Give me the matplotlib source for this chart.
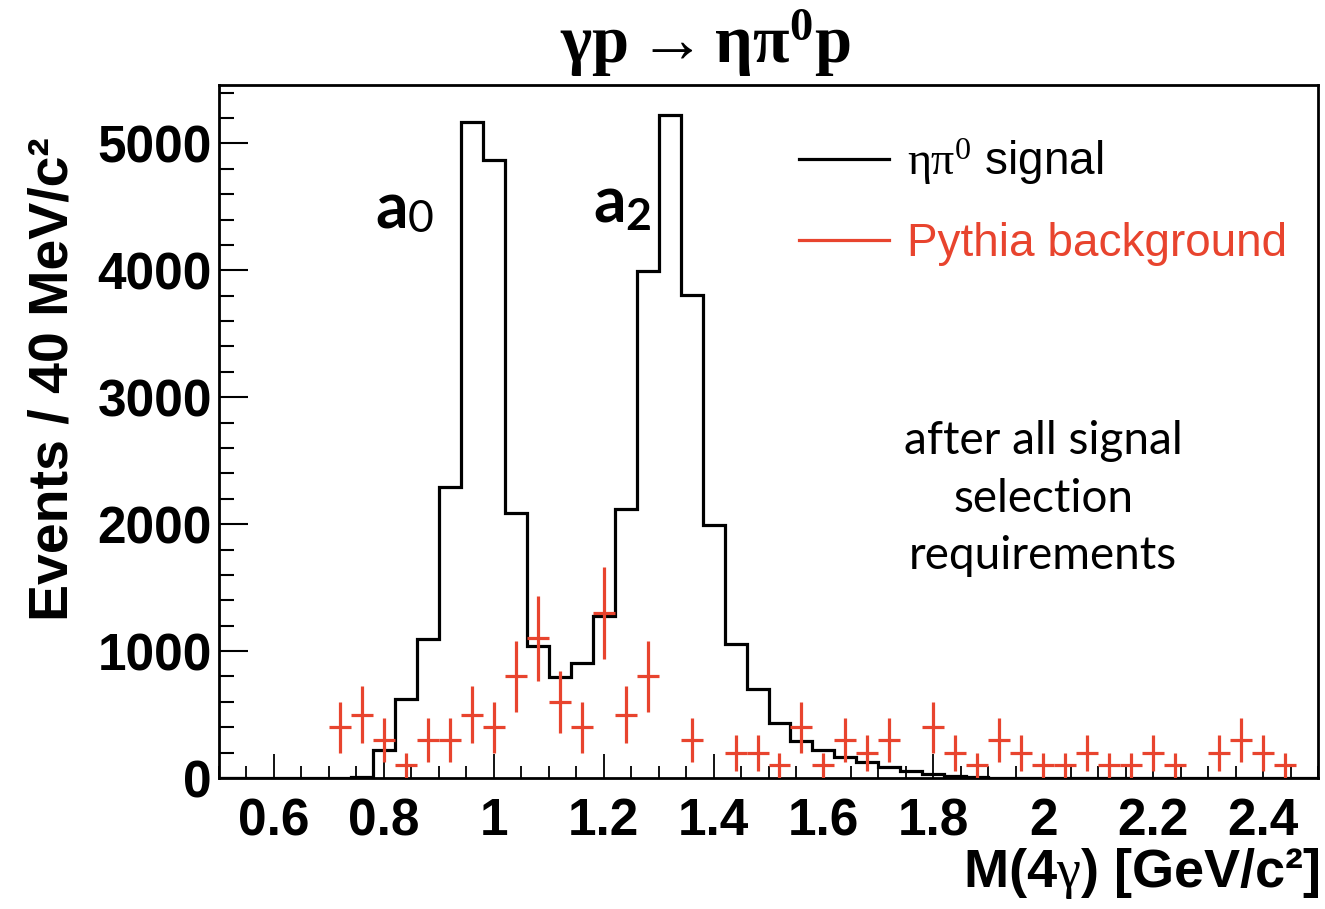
import numpy as np
import matplotlib
matplotlib.use('Agg')
import matplotlib.pyplot as plt
from matplotlib.lines import Line2D
from matplotlib.ticker import MultipleLocator, FuncFormatter

plt.rcParams.update({'font.family': 'Liberation Sans', 'mathtext.fontset': 'custom',
                     'mathtext.rm': 'Liberation Serif', 'mathtext.it': 'Liberation Serif:italic',
                     'mathtext.bf': 'Liberation Serif:bold'})
RED = '#e8442e'

# 40 MeV bins from 0.5 to 2.5 GeV
edges = np.round(np.arange(0.5, 2.5001, 0.04), 2)
centers = (edges[:-1] + edges[1:]) / 2

# eta pi0 signal (MC), events per bin
signal = [0, 0, 0, 0, 0, 0, 8, 220, 622, 1095,
          2294, 5171, 4866, 2084, 1037, 793, 903, 1273, 2118, 3995,
          5220, 3803, 1995, 1055, 700, 430, 289, 220, 163, 123,
          84, 53, 31, 13, 6, 3, 1, 0, 0, 0,
          0, 0, 0, 0, 0, 0, 0, 0, 0, 0]

# Pythia background, per bin, with errors
bkg = [0, 0, 0, 0, 0, 400, 500, 300, 100, 300,
       300, 500, 400, 800, 1100, 600, 400, 1300, 500, 800,
       0, 300, 0, 200, 200, 100, 400, 100, 300, 200,
       300, 0, 400, 200, 100, 300, 200, 100, 100, 200,
       100, 100, 200, 100, 0, 200, 300, 200, 100, 0]
bkg_err = [0, 0, 0, 0, 0, 200, 224, 173, 100, 173,
           173, 224, 200, 283, 332, 245, 200, 361, 224, 283,
           0, 173, 0, 141, 141, 100, 200, 100, 173, 141,
           173, 0, 200, 141, 100, 173, 141, 100, 100, 141,
           100, 100, 141, 100, 0, 141, 173, 141, 100, 0]

fig = plt.figure(figsize=(13.25, 9.09), dpi=100)
ax = fig.add_axes([0.1653, 0.1441, 0.8294, 0.7624])

ax.stairs(signal, edges, color='black', lw=2.3)
bv = np.array(bkg, float); be = np.array(bkg_err, float)
m = bv > 0
ax.errorbar(centers[m], bv[m], yerr=be[m], xerr=0.02, fmt='none',
            ecolor=RED, elinewidth=2.3, capsize=0, zorder=3)

ax.set_xlim(0.5, 2.5)
ax.set_ylim(0, 5460)
ax.xaxis.set_major_locator(MultipleLocator(0.2))
ax.xaxis.set_minor_locator(MultipleLocator(0.05))
ax.yaxis.set_major_locator(MultipleLocator(1000))
ax.yaxis.set_minor_locator(MultipleLocator(200))
ax.xaxis.set_major_formatter(FuncFormatter(lambda v, p: f'{v:g}'))
ax.tick_params(which='both', direction='in', top=False, right=False, labelsize=37)
ax.tick_params(axis='y', which='major', length=21, width=1.5, pad=5)
ax.tick_params(axis='y', which='minor', length=11, width=1.5)
ax.tick_params(axis='x', which='major', length=17, width=1.3, pad=14)
ax.tick_params(axis='x', which='minor', length=9, width=1.3)
for t in ax.get_xticklabels() + ax.get_yticklabels():
    t.set_fontweight('bold')
for s in ax.spines.values():
    s.set_linewidth(2)

ax.set_ylabel('Events / 40 MeV/c²', fontsize=40, fontweight='bold')
ax.yaxis.set_label_coords(-0.127, 0.575)
ax.set_xlabel(r'M(4$\mathrm{\gamma}$) [GeV/c²]', fontsize=39, fontweight='bold', ha='right')
ax.xaxis.set_label_coords(1.002, -0.098)

fig.text(0.532, 0.952, r'$\mathbf{\gamma p \rightarrow \eta\pi^{0}p}$', fontsize=48,
         ha='center', va='center')

# peak labels
ax.text(0.784, 4330, 'a', family='Lato', fontweight='bold', fontsize=46, va='baseline')
ax.text(0.844, 4300, '0', family='Lato', fontsize=32, va='baseline')
ax.text(1.182, 4378, 'a', family='Lato', fontweight='bold', fontsize=46, va='baseline')
ax.text(1.240, 4315, '2', family='Lato', fontweight='bold', fontsize=32, va='baseline')

ax.text(2.0, 2200, 'after all signal\nselection\nrequirements', family='Lato',
        fontsize=33, ha='center', va='center', linespacing=1.45, multialignment='center')

handles = [Line2D([], [], color='black', lw=2.3), Line2D([], [], color=RED, lw=2.3)]
leg = ax.legend(handles, [r'$\mathrm{\eta\pi^{0}}$ signal', 'Pythia background'],
                loc='upper left', bbox_to_anchor=(0.528, 0.925), frameon=False,
                fontsize=33, handlelength=1.95, handletextpad=0.4, labelspacing=0.75,
                borderpad=0, borderaxespad=0)
leg.get_texts()[1].set_color(RED)

fig.savefig('out.png', dpi=100)
